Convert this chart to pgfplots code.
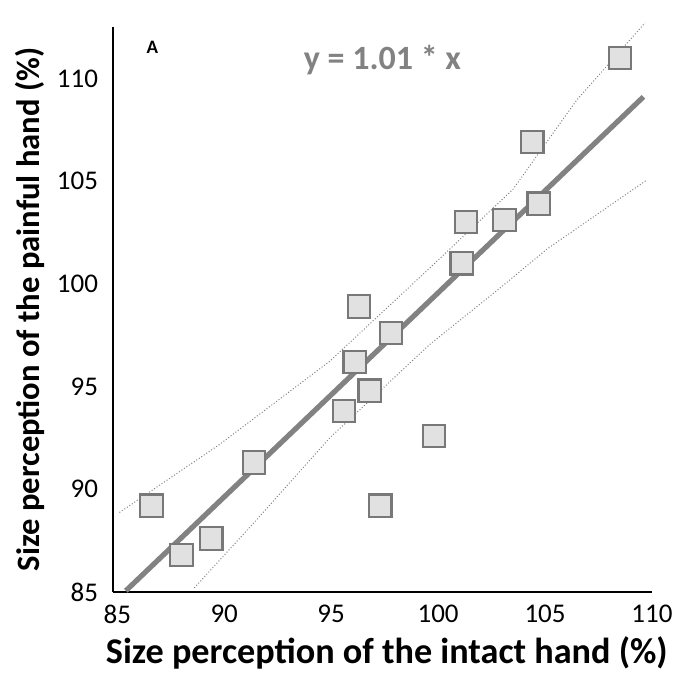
\documentclass[border=0pt]{standalone}
\usepackage{pgfplots}
\pgfplotsset{compat=1.18}
\usepackage{fontspec}
\setmainfont{Carlito}
\definecolor{fitgray}{RGB}{130,130,130}
\definecolor{mkfill}{RGB}{225,225,225}
\definecolor{mkdraw}{RGB}{120,120,120}
\begin{document}
\begin{tikzpicture}
\begin{axis}[
  scale only axis,
  width=269.5pt, height=282.5pt,
  xmin=84.8, xmax=110, ymin=85, ymax=112.5,
  axis x line*=bottom, axis y line*=left,
  axis line style={line width=1.1pt, black},
  xtick={85,90,95,100,105,110},
  ytick={85,90,95,100,105,110},
  major tick length=0pt,
  /pgf/number format/assume math mode=true,
  ticklabel style={font=\fontsize{13.5}{15}\selectfont},
  xticklabel style={yshift=-3pt},
  yticklabel style={xshift=-4pt},
  xlabel={\textbf{Size perception of the intact hand (\%)}},
  ylabel={\textbf{Size perception of the painful hand (\%)}},
  xlabel style={font=\fontsize{18.1}{20}\selectfont, at={(axis description cs:0.508,-0.108)}, anchor=center},
  ylabel style={font=\fontsize{16.3}{18}\selectfont, at={(axis description cs:-0.154,0.5)}, anchor=center, rotate=0},
  clip=false,
]
% confidence bands
\addplot[fitgray, densely dotted, line width=0.5pt] coordinates {
 (85.1,88.87) (89.78,92.18) (94.93,96.23) (99.6,100.76) (103.5,104.6) (106.47,108.93) (109.67,112.7)};
\addplot[fitgray, densely dotted, line width=0.5pt] coordinates {
 (88.6,85.2) (91.5,88.5) (94.93,92.5) (99.6,97.04) (102.9,99.8) (105.1,101.7) (109.75,105.05)};
% fit line
\addplot[fitgray, line width=2.6pt] coordinates {(85.4,85.06) (109.6,109.1)};
% data
\addplot[only marks, mark=square*, mark size=5.6pt,
  mark options={fill=mkfill, draw=mkdraw, line width=1.1pt}] coordinates {
 (86.6,89.2) (88.0,86.8) (89.4,87.6) (91.4,91.3) (95.6,93.8) (96.1,96.2)
 (96.3,98.9) (96.8,94.8) (97.3,89.2) (97.8,97.6) (99.8,92.6) (101.1,101.0)
 (101.3,103.0) (103.1,103.1) (104.4,106.9) (104.7,103.9) (108.5,111.0)};
\node[font=\bfseries\fontsize{9.5}{10}\selectfont] at (axis cs:86.64,111.5) {A};
\node[font=\bfseries\fontsize{17}{18}\selectfont, text=fitgray] at (axis cs:97.4,110.9) {y = 1.01 * x};
\coordinate (ll) at (rel axis cs:0,0);
\coordinate (ur) at (rel axis cs:1,1);
\end{axis}
\pgfresetboundingbox
\path ([xshift=-56.5pt,yshift=-42.5pt]ll) rectangle ([xshift=12.5pt,yshift=13.5pt]ur);
\end{tikzpicture}
\end{document}
